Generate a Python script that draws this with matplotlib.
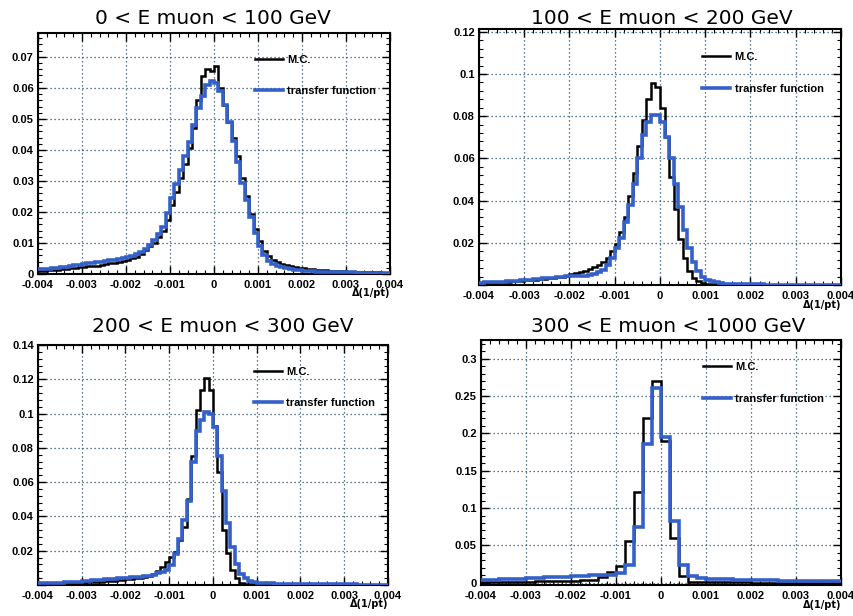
import numpy as np
import matplotlib
matplotlib.use('Agg')
from matplotlib import pyplot as plt
from matplotlib.ticker import MultipleLocator, AutoMinorLocator, FuncFormatter

# histogram contents, 80 bins from -0.004 to 0.004 (last panel: 40 bins)
titles = ["0 < E muon < 100 GeV", "100 < E muon < 200 GeV",
          "200 < E muon < 300 GeV", "300 < E muon < 1000 GeV"]
legend_labels = ["M.C.", "transfer function"]
x_label = "\u0394(1/pt)"

p1_mc = [0.0010, 0.0011, 0.0012, 0.0013, 0.0014, 0.0015, 0.0017, 0.0018, 0.0020, 0.0022,
         0.0024, 0.0025, 0.0027, 0.0026, 0.0030, 0.0032, 0.0034, 0.0036, 0.0040, 0.0041,
         0.0046, 0.0050, 0.0056, 0.0066, 0.0076, 0.0090, 0.0100, 0.0118, 0.0140, 0.0175,
         0.0222, 0.0265, 0.0310, 0.0355, 0.0405, 0.0470, 0.0560, 0.0638, 0.0660, 0.0655,
         0.0672, 0.0600, 0.0545, 0.0490, 0.0440, 0.0380, 0.0310, 0.0250, 0.0195, 0.0145,
         0.0105, 0.0075, 0.0057, 0.0045, 0.0038, 0.0032, 0.0028, 0.0025, 0.0022, 0.0020,
         0.0018, 0.0016, 0.0015, 0.0014, 0.0013, 0.0012, 0.0011, 0.0010, 0.0010, 0.0009,
         0.0008, 0.0008, 0.0007, 0.0007, 0.0006, 0.0006, 0.0005, 0.0005, 0.0004, 0.0004]
p1_tf = [0.0015, 0.0016, 0.0017, 0.0018, 0.0020, 0.0022, 0.0024, 0.0026, 0.0028, 0.0030,
         0.0032, 0.0034, 0.0036, 0.0038, 0.0040, 0.0042, 0.0044, 0.0046, 0.0049, 0.0052,
         0.0055, 0.0058, 0.0063, 0.0070, 0.0080, 0.0094, 0.0110, 0.0128, 0.0152, 0.0196,
         0.0244, 0.0290, 0.0335, 0.0380, 0.0427, 0.0480, 0.0535, 0.0575, 0.0610, 0.0622,
         0.0615, 0.0590, 0.0545, 0.0490, 0.0430, 0.0360, 0.0295, 0.0240, 0.0185, 0.0132,
         0.0090, 0.0060, 0.0042, 0.0032, 0.0026, 0.0022, 0.0019, 0.0016, 0.0014, 0.0012,
         0.0011, 0.0010, 0.0009, 0.0008, 0.0008, 0.0007, 0.0007, 0.0006, 0.0006, 0.0005,
         0.0005, 0.0005, 0.0004, 0.0004, 0.0004, 0.0003, 0.0003, 0.0003, 0.0003, 0.0002]

p2_mc = [0.0010, 0.0011, 0.0012, 0.0013, 0.0014, 0.0015, 0.0016, 0.0017, 0.0019, 0.0020,
         0.0022, 0.0024, 0.0026, 0.0028, 0.0030, 0.0032, 0.0034, 0.0037, 0.0040, 0.0045,
         0.0050, 0.0055, 0.0060, 0.0067, 0.0075, 0.0085, 0.0095, 0.0110, 0.0130, 0.0160,
         0.0195, 0.0250, 0.0320, 0.0420, 0.0530, 0.0660, 0.0780, 0.0880, 0.0957, 0.0940,
         0.0840, 0.0700, 0.0510, 0.0360, 0.0220, 0.0128, 0.0065, 0.0033, 0.0017, 0.0010,
         0.0006, 0.0005, 0.0004, 0.0003, 0.0003, 0.0002, 0.0002, 0.0002, 0.0002, 0.0001,
         0.0001, 0.0001, 0.0001, 0.0001, 0.0001, 0.0001, 0.0001, 0.0001, 0.0001, 0.0001,
         0.0001, 0.0001, 0.0001, 0.0001, 0.0001, 0.0001, 0.0001, 0.0001, 0.0001, 0.0001]
p2_tf = [0.0011, 0.0012, 0.0013, 0.0014, 0.0015, 0.0016, 0.0018, 0.0019, 0.0021, 0.0022,
         0.0024, 0.0026, 0.0027, 0.0029, 0.0031, 0.0033, 0.0035, 0.0037, 0.0039, 0.0041,
         0.0042, 0.0043, 0.0044, 0.0045, 0.0047, 0.0052, 0.0060, 0.0072, 0.0095, 0.0128,
         0.0175, 0.0225, 0.0300, 0.0380, 0.0480, 0.0600, 0.0710, 0.0770, 0.0805, 0.0805,
         0.0770, 0.0700, 0.0600, 0.0480, 0.0370, 0.0260, 0.0175, 0.0110, 0.0065, 0.0040,
         0.0025, 0.0017, 0.0012, 0.0009, 0.0007, 0.0006, 0.0005, 0.0004, 0.0004, 0.0003,
         0.0003, 0.0003, 0.0003, 0.0002, 0.0002, 0.0002, 0.0002, 0.0002, 0.0002, 0.0002,
         0.0001, 0.0001, 0.0001, 0.0001, 0.0001, 0.0001, 0.0001, 0.0001, 0.0001, 0.0001]

p3_mc = [0.0008, 0.0008, 0.0009, 0.0009, 0.0010, 0.0010, 0.0011, 0.0011, 0.0012, 0.0013,
         0.0014, 0.0015, 0.0016, 0.0017, 0.0019, 0.0021, 0.0023, 0.0026, 0.0029, 0.0032,
         0.0035, 0.0037, 0.0040, 0.0042, 0.0048, 0.0055, 0.0065, 0.0080, 0.0105, 0.0136,
         0.0165, 0.0190, 0.0260, 0.0340, 0.0500, 0.0750, 0.1020, 0.1137, 0.1205, 0.1137,
         0.0930, 0.0660, 0.0320, 0.0186, 0.0087, 0.0040, 0.0012, 0.0005, 0.0004, 0.0003,
         0.0003, 0.0003, 0.0002, 0.0002, 0.0002, 0.0002, 0.0002, 0.0002, 0.0001, 0.0001,
         0.0001, 0.0001, 0.0001, 0.0001, 0.0001, 0.0001, 0.0001, 0.0001, 0.0001, 0.0001,
         0.0001, 0.0001, 0.0001, 0.0001, 0.0001, 0.0001, 0.0001, 0.0001, 0.0001, 0.0001]
p3_tf = [0.0010, 0.0011, 0.0011, 0.0012, 0.0013, 0.0014, 0.0015, 0.0016, 0.0017, 0.0018,
         0.0023, 0.0025, 0.0027, 0.0029, 0.0031, 0.0033, 0.0035, 0.0037, 0.0039, 0.0041,
         0.0043, 0.0045, 0.0047, 0.0049, 0.0052, 0.0055, 0.0060, 0.0068, 0.0075, 0.0090,
         0.0115, 0.0180, 0.0270, 0.0380, 0.0490, 0.0720, 0.0900, 0.0960, 0.1010, 0.1000,
         0.0920, 0.0750, 0.0550, 0.0360, 0.0220, 0.0125, 0.0065, 0.0040, 0.0025, 0.0018,
         0.0014, 0.0012, 0.0010, 0.0009, 0.0008, 0.0007, 0.0007, 0.0006, 0.0006, 0.0005,
         0.0005, 0.0005, 0.0004, 0.0004, 0.0004, 0.0004, 0.0003, 0.0003, 0.0003, 0.0003,
         0.0003, 0.0003, 0.0003, 0.0002, 0.0002, 0.0002, 0.0002, 0.0002, 0.0002, 0.0002]

p4_mc = [0.0008, 0.0009, 0.0010, 0.0011, 0.0013, 0.0015, 0.0017, 0.0019, 0.0022, 0.0026,
         0.0030, 0.0035, 0.0040, 0.0080, 0.0150, 0.0230, 0.0560, 0.1210, 0.2210, 0.2700,
         0.1900, 0.0600, 0.0094, 0.0012, 0.0008, 0.0006, 0.0005, 0.0005, 0.0004, 0.0004,
         0.0003, 0.0003, 0.0003, 0.0003, 0.0002, 0.0002, 0.0002, 0.0002, 0.0002, 0.0002]
p4_tf = [0.0040, 0.0043, 0.0047, 0.0052, 0.0057, 0.0062, 0.0067, 0.0072, 0.0077, 0.0082,
         0.0087, 0.0092, 0.0098, 0.0104, 0.0110, 0.0130, 0.0240, 0.0750, 0.1860, 0.2610,
         0.1950, 0.0830, 0.0240, 0.0090, 0.0060, 0.0052, 0.0048, 0.0045, 0.0042, 0.0039,
         0.0036, 0.0033, 0.0031, 0.0029, 0.0027, 0.0025, 0.0023, 0.0021, 0.0019, 0.0018]

mc_sets = [p1_mc, p2_mc, p3_mc, p4_mc]
tf_sets = [p1_tf, p2_tf, p3_tf, p4_tf]

# layout (pixels measured on the 854x616 picture)
W, H = 854, 616
axes_px = [(38, 33, 390, 274), (479, 29, 841, 285), (38, 345, 388, 585), (481, 340, 841, 585)]
title_px = [(213, 19), (662, 18), (223, 326), (668, 326)]
y_limits = [(0, 0.0777), (0, 0.1213), (0, 0.14), (-0.003, 0.325)]
y_steps = [0.01, 0.02, 0.02, 0.05]
show_zero = [True, False, False, True]

MC_COLOR = 'black'
TF_COLOR = '#3461c9'
GRID_COLOR = '#24506e'
tick_font = {'family': 'Liberation Sans', 'weight': 'bold', 'size': 8}


def fmt(v, pos, keep_zero=True):
    if abs(v) < 1e-12:
        return '0' if keep_zero else ''
    return '%g' % v


fig = plt.figure(figsize=(W / 100, H / 100), dpi=100)

for i in range(4):
    x0, y0, x1, y1 = axes_px[i]
    ax = fig.add_axes([x0 / W, 1 - y1 / H, (x1 - x0) / W, (y1 - y0) / H])
    mc = np.array(mc_sets[i])
    tf = np.array(tf_sets[i])
    edges = np.linspace(-0.004, 0.004, len(mc) + 1)

    ax.stairs(mc, edges, baseline=None, color=MC_COLOR, lw=1.8, label=legend_labels[0], zorder=3)
    ax.stairs(tf, edges, baseline=None, color=TF_COLOR, lw=2.6, label=legend_labels[1], zorder=4)

    ax.set_xlim(-0.004, 0.004)
    ax.set_ylim(*y_limits[i])
    ax.xaxis.set_major_locator(MultipleLocator(0.001))
    ax.xaxis.set_minor_locator(AutoMinorLocator(5))
    ax.yaxis.set_major_locator(MultipleLocator(y_steps[i]))
    ax.yaxis.set_minor_locator(AutoMinorLocator(5))
    ax.xaxis.set_major_formatter(FuncFormatter(fmt))
    keep = show_zero[i]
    ax.yaxis.set_major_formatter(FuncFormatter(lambda v, p, k=keep: fmt(v, p, k)))

    ax.tick_params(which='both', direction='in', top=True, right=True)
    ax.tick_params(axis='x', pad=4.5)
    ax.tick_params(axis='y', pad=3)
    ax.tick_params(which='major', length=6, width=1)
    ax.tick_params(which='minor', length=3, width=0.8)
    for lab in ax.get_xticklabels() + ax.get_yticklabels():
        lab.set_fontproperties(tick_font)
    for sp in ax.spines.values():
        sp.set_linewidth(1.5)

    ax.set_axisbelow(True)
    ax.grid(True, which='major', color=GRID_COLOR, linestyle=(0, (1, 2.2)), linewidth=0.9)

    ax.text(1.0, -0.06, x_label, transform=ax.transAxes, ha='right', va='top',
            fontfamily='DejaVu Sans', fontsize=7, fontweight='bold')

    ax.legend(loc='upper left', bbox_to_anchor=(0.617, 0.91), frameon=False,
              prop=tick_font, handlelength=2.5, handletextpad=0.4,
              labelspacing=1.95, borderpad=0, borderaxespad=0)

    tx, ty = title_px[i]
    fig.text(tx / W, 1 - ty / H, titles[i], ha='center', va='center',
             fontfamily='DejaVu Sans', fontsize=14.5)

fig.savefig('out.png', dpi=100)
